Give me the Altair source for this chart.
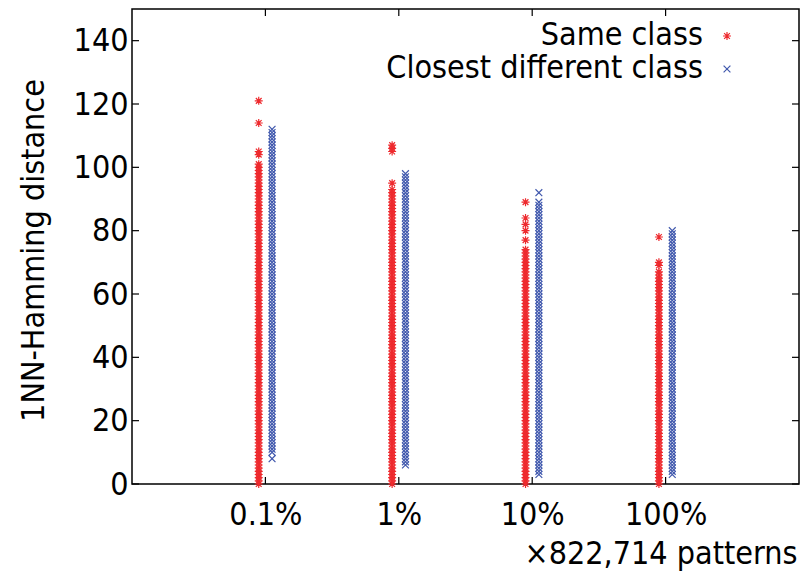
import altair as alt
import pandas as pd

# ---- data ----
categories = ["0.1%", "1%", "10%", "100%"]
series = ["Same class", "Closest different class"]
# contiguous runs of integer distances (every integer present) + isolated points
same_runs = [(0, 101), (0, 93), (0, 74), (0, 67)]
same_extra = [[104, 105, 114, 121], [95, 105, 106, 107], [77, 80, 82, 84, 89], [69, 70, 78]]
diff_runs = [(10, 112), (6, 98), (3, 89), (3, 80)]
diff_extra = [[8], [], [92], []]
y_ticks = [0, 20, 40, 60, 80, 100, 120, 140]
x_ticks = [1, 2, 3, 4]

colors = ["#ee2a2e", "#4058ad"]
STAR = "M-1,0L1,0M0,-1L0,1M-0.72,-0.72L0.72,0.72M-0.72,0.72L0.72,-0.72"
XMARK = "M-0.85,-0.85L0.85,0.85M-0.85,0.85L0.85,-0.85"

rows = []
for i, cat in enumerate(categories):
    for name, runs, extra in ((series[0], same_runs, same_extra), (series[1], diff_runs, diff_extra)):
        lo, hi = runs[i]
        vals = list(range(lo, hi + 1)) + extra[i]
        for v in vals:
            rows.append({"idx": i + 1, "category": cat, "series": name, "dist": v})
df = pd.DataFrame(rows)

W, H = 667, 475
FONT = "DejaVu Sans Condensed, DejaVu Sans"
FS = 32

label_expr = " : ".join(
    f"datum.value == {i + 1} ? '{c}'" for i, c in enumerate(categories)
) + " : ''"

xscale = alt.Scale(domain=[0, 5], nice=False, zero=False)
yscale = alt.Scale(domain=[0, 150], nice=False)

points = alt.Chart(df).transform_calculate(
    xpos=f"datum.idx + (datum.series == '{series[0]}' ? -0.05 : 0.05)"
).mark_point(filled=False, size=64, strokeWidth=1.2, opacity=1).encode(
    x=alt.X("xpos:Q", scale=xscale,
            axis=alt.Axis(values=x_ticks, labelExpr=label_expr, title="×822,714 patterns",
                          ticks=False, domain=False, grid=False, labelPadding=15,
                          labelFont=FONT, labelFontSize=FS, labelColor="black",
                          titleFont=FONT, titleFontSize=FS, titleFontWeight="normal",
                          titleColor="black", titleAnchor="end", titleAlign="right",
                          titleX=W - 2, titleY=79, titleBaseline="alphabetic")),
    y=alt.Y("dist:Q", scale=yscale,
            axis=alt.Axis(values=y_ticks, title="1NN-Hamming distance",
                          ticks=False, domain=False, grid=False, labelPadding=4,
                          labelFont=FONT, labelFontSize=FS, labelColor="black",
                          titleFont=FONT, titleFontSize=FS, titleFontWeight="normal",
                          titleColor="black", titleAngle=270, titleAlign="center",
                          titleX=-89, titleY=241, titleBaseline="alphabetic")),
    color=alt.Color("series:N", scale=alt.Scale(domain=series, range=colors), legend=None),
    shape=alt.Shape("series:N", scale=alt.Scale(domain=series, range=[STAR, XMARK]), legend=None),
)

ytick_df = pd.DataFrame({"v": y_ticks})
xtick_df = pd.DataFrame({"v": x_ticks})
TL = 7
left_ticks = alt.Chart(ytick_df).mark_rule(color="black", strokeWidth=1.2).encode(
    y=alt.Y("v:Q", scale=yscale), x=alt.value(0), x2=alt.value(TL))
right_ticks = alt.Chart(ytick_df).mark_rule(color="black", strokeWidth=1.2).encode(
    y=alt.Y("v:Q", scale=yscale), x=alt.value(W - TL), x2=alt.value(W))
bottom_ticks = alt.Chart(xtick_df).mark_rule(color="black", strokeWidth=1.2).encode(
    x=alt.X("v:Q", scale=xscale), y=alt.value(H), y2=alt.value(H - TL))
top_ticks = alt.Chart(xtick_df).mark_rule(color="black", strokeWidth=1.2).encode(
    x=alt.X("v:Q", scale=xscale), y=alt.value(0), y2=alt.value(TL))

legend_layers = []
leg_text_y = [36, 69]
leg_sym_y = [27, 60]
shapes = [STAR, XMARK]
for k, name in enumerate(series):
    ldf = pd.DataFrame({"series": [name]})
    legend_layers.append(
        alt.Chart(ldf).mark_text(font=FONT, fontSize=FS, align="right", baseline="alphabetic",
                                 color="black").encode(
            text="series:N", x=alt.value(571), y=alt.value(leg_text_y[k])))
    legend_layers.append(
        alt.Chart(ldf).mark_point(filled=False, size=64, strokeWidth=1.2, opacity=1,
                                  shape=shapes[k], color=colors[k]).encode(
            x=alt.value(595), y=alt.value(leg_sym_y[k])))

chart = alt.layer(
    points, left_ticks, right_ticks, bottom_ticks, top_ticks, *legend_layers
).properties(
    width=W, height=H,
    padding={"left": 132, "top": 9, "right": 1, "bottom": 88},
    autosize=alt.AutoSizeParams(type="none"),
    background="white",
).configure_view(stroke="black", strokeWidth=1.5)

chart.save("out.html", embed_options={"renderer": "svg", "actions": False})
